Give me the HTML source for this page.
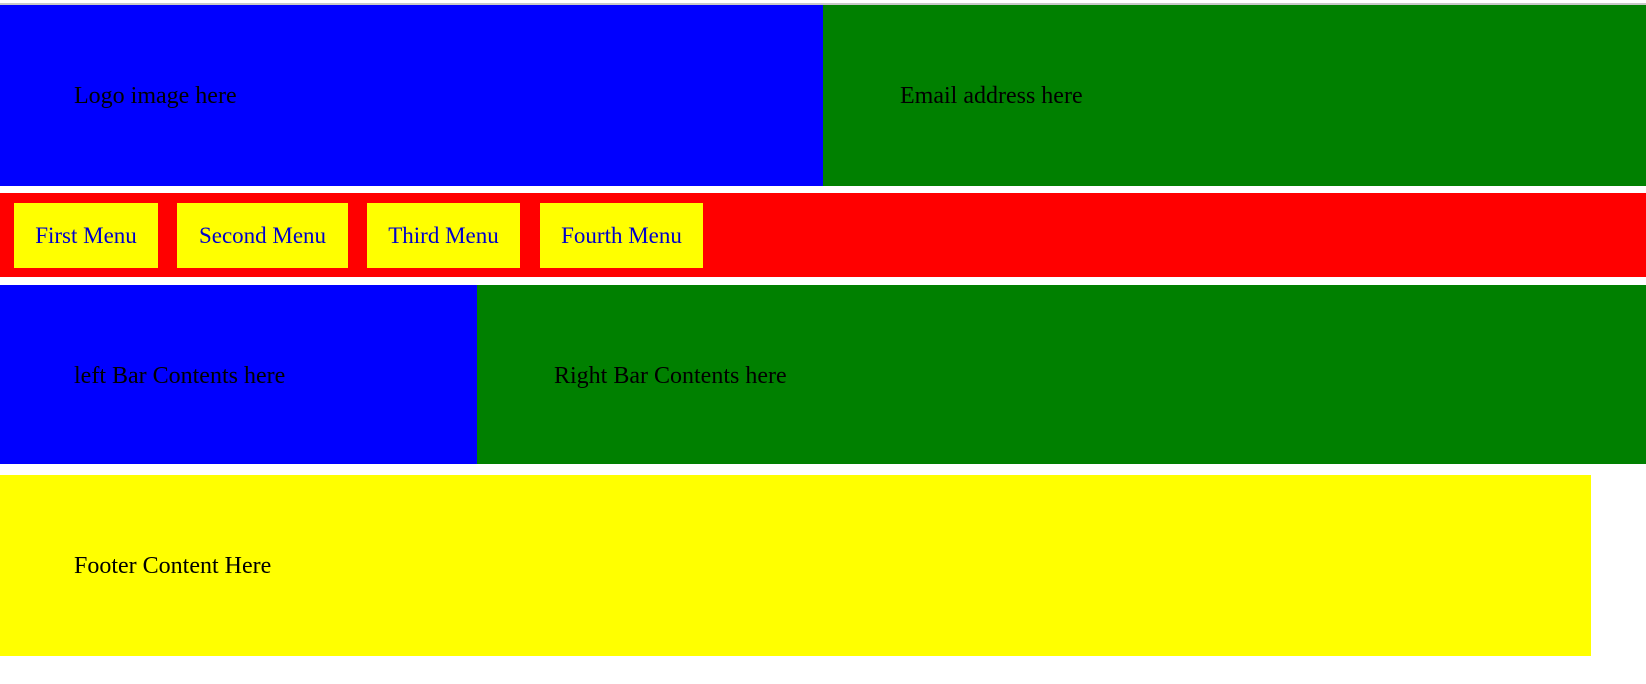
<!DOCTYPE html>
<html><head><meta charset="utf-8"><style>
html,body{margin:0;padding:0;width:1646px;height:684px;background:#fff;overflow:hidden;position:relative;font-family:"Liberation Serif",serif;}
div{position:absolute;box-sizing:border-box;}
.t{position:absolute;font-size:24px;line-height:28px;white-space:nowrap;color:#000;}
.btn{background:#ffff00;top:203px;height:65px;color:#0000cc;font-size:23px;line-height:65px;text-align:center;}
</style></head><body>
<div style="left:0;top:3px;width:1646px;height:2px;background:#c8c8c8"></div>
<div style="left:0;top:5px;width:823px;height:181px;background:#0000ff"><span class="t" style="left:74px;top:77px">Logo image here</span></div>
<div style="left:823px;top:5px;width:823px;height:181px;background:#008000"><span class="t" style="left:77px;top:77px">Email address here</span></div>
<div style="left:0;top:193px;width:1646px;height:84px;background:#ff0000"></div>
<div class="btn" style="left:14px;width:144px">First Menu</div>
<div class="btn" style="left:177px;width:171px">Second Menu</div>
<div class="btn" style="left:367px;width:153px">Third Menu</div>
<div class="btn" style="left:540px;width:163px">Fourth Menu</div>
<div style="left:0;top:285px;width:477px;height:179px;background:#0000ff"><span class="t" style="left:74px;top:77px">left Bar Contents here</span></div>
<div style="left:477px;top:285px;width:1169px;height:179px;background:#008000"><span class="t" style="left:77px;top:77px">Right Bar Contents here</span></div>
<div style="left:0;top:475px;width:1591px;height:181px;background:#ffff00"><span class="t" style="left:74px;top:77px">Footer Content Here</span></div>
</body></html>
